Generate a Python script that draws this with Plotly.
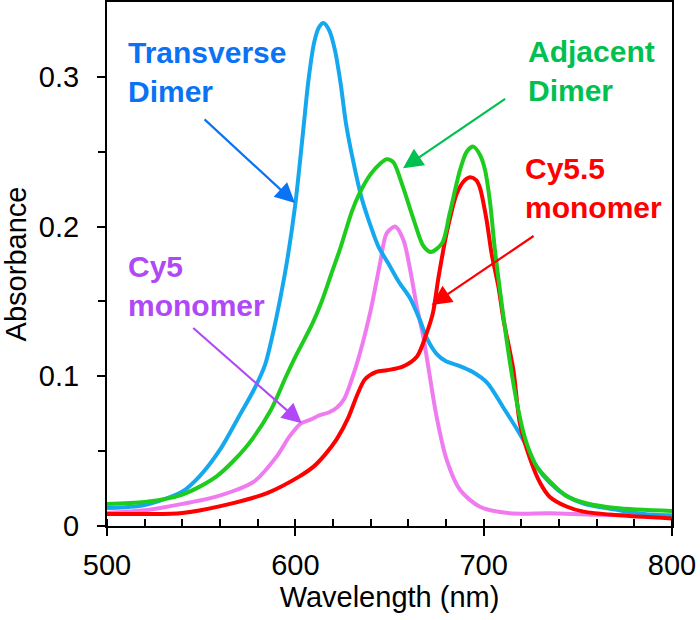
import plotly.graph_objects as go

# ---- data ----
transverse_nm = [500, 520, 540, 549, 560, 570, 578, 584, 588, 592, 596, 600, 604, 607, 610, 612.5,
                 615, 618, 621, 624, 627, 631, 635, 639, 644, 650, 655, 661, 666, 670, 675, 680, 687,
                 694, 702, 710, 718, 723, 728, 735, 744, 753, 770, 785, 800]
transverse_abs = [0.012, 0.014, 0.023, 0.033, 0.051, 0.073, 0.091, 0.108, 0.128, 0.152, 0.180, 0.215,
                  0.262, 0.298, 0.323, 0.333, 0.336, 0.331, 0.318, 0.296, 0.268, 0.242, 0.220,
                  0.204, 0.187, 0.174, 0.163, 0.152, 0.138, 0.125, 0.115, 0.110, 0.107, 0.103, 0.0955,
                  0.080, 0.064, 0.053, 0.040, 0.029, 0.020, 0.015, 0.011, 0.008, 0.007]

adjacent_nm = [500, 520, 540, 558, 574, 587, 595, 600, 609, 614, 619, 624, 630, 634, 640, 645, 648.5,
               652, 657, 663, 668, 672, 678, 682, 687.5, 691, 694.5, 698, 700.7, 703.4, 706, 709, 712,
               715, 718, 721, 724, 728, 735, 744, 755, 770, 800]
adjacent_abs = [0.0147, 0.016, 0.021, 0.033, 0.053, 0.0775, 0.0997, 0.113, 0.135, 0.150, 0.168, 0.186,
                0.210, 0.222, 0.235, 0.242, 0.245, 0.243, 0.227, 0.204, 0.187, 0.183, 0.189, 0.209,
                0.238, 0.250, 0.2534, 0.248, 0.238, 0.216, 0.184, 0.154, 0.126, 0.101, 0.080, 0.063,
                0.051, 0.040, 0.030, 0.020, 0.015, 0.012, 0.010]

cy5_nm = [500, 520, 532, 558, 578, 590, 597, 603, 608, 613, 618, 622, 626, 630, 634, 640, 645, 648.5,
          653, 657.4, 661, 664.5, 668, 675, 680.4, 687.5, 698, 714, 735, 760, 800]
cy5_abs = [0.0087, 0.0105, 0.0129, 0.0196, 0.0296, 0.0463, 0.060, 0.0686, 0.071, 0.074, 0.076, 0.079,
           0.085, 0.098, 0.114, 0.144, 0.1756, 0.1955, 0.200, 0.191, 0.171, 0.1465, 0.126, 0.073, 0.044,
           0.024, 0.0129, 0.0085, 0.0085, 0.0075, 0.007]

cy55_nm = [500, 520, 540, 567, 585, 602, 610, 616, 622, 628, 633, 637, 643, 648.5, 657, 664.5, 669.7,
           673, 676, 680.4, 685.7, 690, 693, 696, 698, 701.6, 704.2, 707.8, 710.5, 715.8, 719.3, 724.6,
           730, 735, 744, 753, 770, 800]
cy55_abs = [0.008, 0.008, 0.0087, 0.0153, 0.022, 0.033, 0.040, 0.048, 0.058, 0.072, 0.088, 0.098,
            0.103, 0.104, 0.1064, 0.113, 0.1287, 0.142, 0.166, 0.196, 0.222, 0.231, 0.233, 0.231, 0.226,
            0.204, 0.182, 0.160, 0.138, 0.104, 0.068, 0.045, 0.0287, 0.0196, 0.013, 0.0096, 0.0073, 0.005]

x_ticks = [500, 600, 700, 800]
y_ticks = [0, 0.1, 0.2, 0.3]
y_tick_text = ["0", "0.1", "0.2", "0.3"]

FONT = "Liberation Sans, Arial, sans-serif"

fig = go.Figure()
series = [
    (cy5_nm, cy5_abs, "#F07AF0"),
    (transverse_nm, transverse_abs, "#15A8EE"),
    (cy55_nm, cy55_abs, "#FF0000"),
    (adjacent_nm, adjacent_abs, "#1ECC1E"),
]
for xs, ys, col in series:
    fig.add_trace(go.Scatter(x=xs, y=ys, mode="lines",
                             line=dict(color=col, width=4, shape="spline", smoothing=0.8),
                             showlegend=False, hoverinfo="skip"))

def label(text, x, y, color):
    fig.add_annotation(x=x, y=y, xref="x", yref="y", text=text, showarrow=False,
                       xanchor="left", yanchor="middle", align="left",
                       font=dict(family=FONT, size=30, color=color))

def arrow(x0, y0, x1, y1, color):
    fig.add_annotation(x=x1, y=y1, ax=x0, ay=y0, xref="x", yref="y", axref="x", ayref="y",
                       text="", showarrow=True, arrowhead=2, arrowsize=1.8, arrowwidth=2.2,
                       arrowcolor=color, standoff=0)

label("<b>Transverse</b><br><b>Dimer</b>", 510.0, 0.303, "#0A72F5")
label("<b>Adjacent</b><br><b>Dimer</b>", 722.3, 0.304, "#00C050")
label("<b>Cy5.5</b><br><b>monomer</b>", 720.8, 0.226, "#FF0000")
label("<b>Cy5</b><br><b>monomer</b>", 510.0, 0.160, "#B048F8")

arrow(551, 0.2725, 599.8, 0.2158, "#0A72F5")
arrow(712.2, 0.286, 657.2, 0.239, "#00C050")
arrow(727.3, 0.1944, 672.4, 0.1476, "#FF0000")
arrow(545, 0.1331, 603.4, 0.0686, "#B048F8")

fig.update_layout(
    width=700, height=620,
    margin=dict(l=107, r=28, t=2, b=94),
    paper_bgcolor="white", plot_bgcolor="white",
    font=dict(family=FONT, size=29, color="black"),
    xaxis=dict(range=[500, 800], tickvals=x_ticks, ticks="outside", ticklen=8, tickwidth=2,
               tickcolor="black", showline=True, linecolor="black", linewidth=2, mirror=True,
               showgrid=False, zeroline=False, automargin=False, ticklabelstandoff=4,
               minor=dict(dtick=20, ticks="inside", ticklen=7, tickwidth=2, tickcolor="black",
                          showgrid=False),
               title=dict(text="Wavelength (nm)", standoff=4,
                          font=dict(family=FONT, size=29)),
               tickfont=dict(family=FONT, size=29)),
    yaxis=dict(range=[0, 0.35], tickvals=y_ticks, ticktext=y_tick_text, ticks="outside", ticklen=8,
               tickwidth=2, tickcolor="black", showline=True, linecolor="black", linewidth=2,
               mirror=True, showgrid=False, zeroline=False, automargin=False, ticklabelstandoff=12,
               minor=dict(tickvals=[0.05, 0.15, 0.25], ticks="outside", ticklen=7, tickwidth=2,
                          tickcolor="black", showgrid=False),
               title=dict(text="Absorbance", standoff=8, font=dict(family=FONT, size=29)),
               tickfont=dict(family=FONT, size=29)),
)

fig.write_html("out.html", config={"displayModeBar": False},
               post_script="document.body.style.margin='0';")
